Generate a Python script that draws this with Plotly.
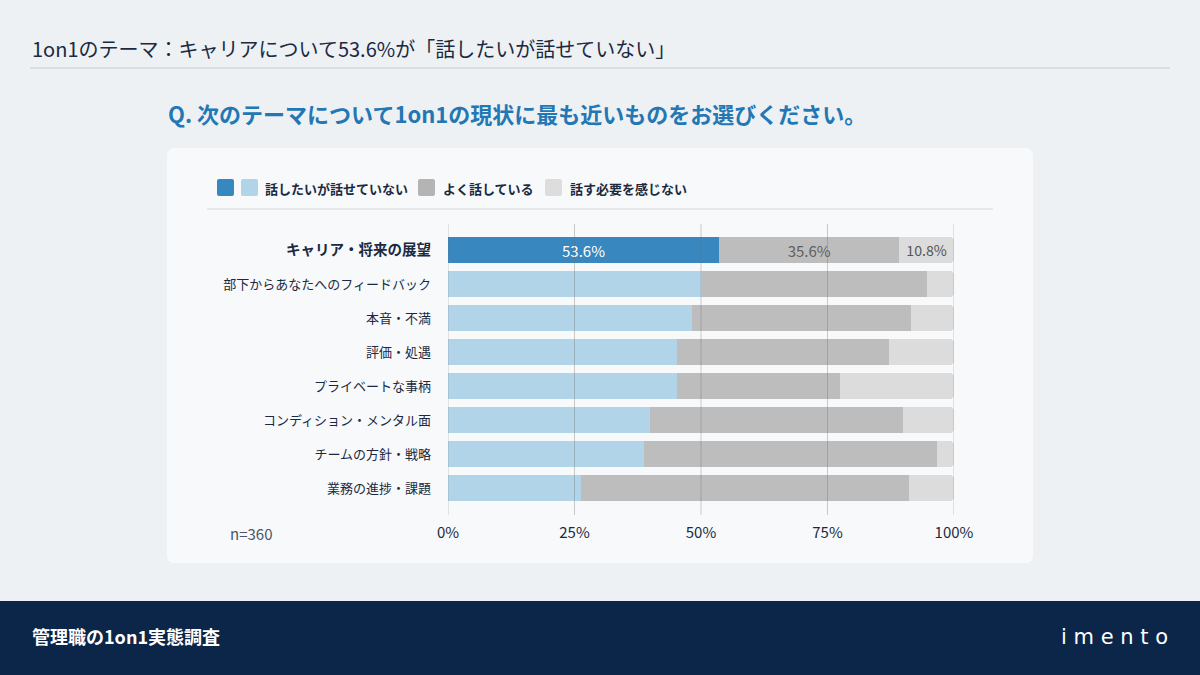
import plotly.graph_objects as go

# Data (share of respondents, %)
themes = [
    "キャリア・将来の展望",
    "部下からあなたへのフィードバック",
    "本音・不満",
    "評価・処遇",
    "プライベートな事柄",
    "コンディション・メンタル面",
    "チームの方針・戦略",
    "業務の進捗・課題",
]
want_but_cant = [53.6, 50.1, 48.2, 45.3, 45.3, 39.9, 38.7, 26.3]
talk_often = [35.6, 44.6, 43.3, 41.8, 32.1, 50.0, 58.0, 64.8]
no_need = [10.8, 5.3, 8.5, 12.9, 22.6, 10.1, 3.3, 8.9]
series_names = ["話したいが話せていない", "よく話している", "話す必要を感じない"]
tick_vals = [0, 25, 50, 75, 100]
tick_text = ["0%", "25%", "50%", "75%", "100%"]

W, H = 1200, 675
FONT = "Noto Sans CJK JP"
NAVY = "#1b2a41"


def px(x):
    return x / W


def py(y):
    return 1 - y / H


fig = go.Figure()

# highlight only the first row (career)
blue_colors = ["#3887be"] + ["#b2d4e8"] * (len(themes) - 1)
label_row = lambda vals: [f"{vals[0]:.1f}%"] + [""] * (len(vals) - 1)

fig.add_trace(go.Bar(
    y=themes, x=want_but_cant, orientation="h", name=series_names[0],
    marker=dict(color=blue_colors, line=dict(width=0)),
    text=label_row(want_but_cant), textposition="inside", insidetextanchor="middle",
    textfont=dict(color="white", size=15, family=FONT), constraintext="none",
    hoverinfo="skip",
))
fig.add_trace(go.Bar(
    y=themes, x=talk_often, orientation="h", name=series_names[1],
    marker=dict(color="#bdbdbd", line=dict(width=0)),
    text=label_row(talk_often), textposition="inside", insidetextanchor="middle",
    textfont=dict(color="#606060", size=15, family=FONT), constraintext="none",
    hoverinfo="skip",
))
fig.add_trace(go.Bar(
    y=themes, x=no_need, orientation="h", name=series_names[2],
    marker=dict(color="#dcdcdc", line=dict(width=0)),
    text=label_row(no_need), textposition="inside", insidetextanchor="middle",
    textfont=dict(color="#555555", size=15, family=FONT), constraintext="none",
    hoverinfo="skip",
))

ticks_y = [f"<span style='font-size:14.5px'><b>{themes[0]}</b></span>"] + themes[1:]

# rounded rectangle path in paper coords
def rounded_rect(x0, y0, x1, y1, r):
    rx, ry = r / W, r / H
    a0, b0, a1, b1 = px(x0), py(y0), px(x1), py(y1)
    return (f"M {a0+rx},{b0} L {a1-rx},{b0} Q {a1},{b0} {a1},{b0-ry} "
            f"L {a1},{b1+ry} Q {a1},{b1} {a1-rx},{b1} L {a0+rx},{b1} "
            f"Q {a0},{b1} {a0},{b1+ry} L {a0},{b0-ry} Q {a0},{b0} {a0+rx},{b0} Z")


shapes = [
    dict(type="path", xref="paper", yref="paper", path=rounded_rect(167, 148, 1033, 563, 8),
         fillcolor="#f7f9fb", line=dict(width=0), layer="below"),
    dict(type="line", xref="paper", yref="paper", x0=px(30), x1=px(1170), y0=py(68), y1=py(68),
         line=dict(color="#c6ccd3", width=1)),
    dict(type="line", xref="paper", yref="paper", x0=px(207), x1=px(993), y0=py(209), y1=py(209),
         line=dict(color="#d3d7dc", width=1)),
    dict(type="rect", xref="paper", yref="paper", x0=0, x1=1, y0=0, y1=py(601),
         fillcolor="#0b2649", line=dict(width=0)),
]
# gridlines drawn over the bars
for v in tick_vals:
    shapes.append(dict(type="line", xref="x", yref="paper", x0=v, x1=v, y0=py(515), y1=py(224),
                       line=dict(color="rgba(110,110,110,0.35)", width=1), layer="above"))

# legend squares
legend_boxes = [(217, "#3887be"), (241, "#b2d4e8"), (418, "#b4b4b4"), (545, "#dddddd")]
for x0, c in legend_boxes:
    shapes.append(dict(type="path", xref="paper", yref="paper",
                       path=rounded_rect(x0, 179, x0 + 17, 196, 2),
                       fillcolor=c, line=dict(width=0)))

annotations = [
    dict(text="1on1のテーマ：キャリアについて53.6%が「話したいが話せていない」",
         x=px(30), y=py(48), xanchor="left", yanchor="middle",
         font=dict(size=20, color=NAVY, family=FONT)),
    dict(text="<b>Q. 次のテーマについて1on1の現状に最も近いものをお選びください。</b>",
         x=px(166), y=py(113), xanchor="left", yanchor="middle",
         font=dict(size=22, color="#2377b4", family=FONT)),
    dict(text="n=360", x=px(228), y=py(533), xanchor="left", yanchor="middle",
         font=dict(size=15, color="#4a5568", family=FONT)),
    dict(text="<b>管理職の1on1実態調査</b>", x=px(30), y=py(636), xanchor="left", yanchor="middle",
         font=dict(size=18, color="white", family=FONT)),
    dict(text="i m e n t o", x=px(1170), y=py(637), xanchor="right", yanchor="middle",
         font=dict(size=21, color="white", family="DejaVu Sans")),
]
for x0, name in zip([263, 441, 568], series_names):
    annotations.append(dict(text=f"<b>{name}</b>", x=px(x0), y=py(188), xanchor="left",
                            yanchor="middle", font=dict(size=13, color=NAVY, family=FONT)))
for a in annotations:
    a.update(xref="paper", yref="paper", showarrow=False)

fig.update_layout(
    width=W, height=H,
    margin=dict(l=0, r=0, t=0, b=0, pad=0, autoexpand=False),
    paper_bgcolor="#edf1f4",
    plot_bgcolor="rgba(0,0,0,0)",
    barmode="stack",
    bargap=0.24,
    barcornerradius=4,
    showlegend=False,
    font=dict(family=FONT, color=NAVY),
    shapes=shapes,
    annotations=annotations,
)
fig.update_xaxes(
    domain=[px(448), px(954)], range=[0, 100], tickvals=tick_vals, ticktext=tick_text,
    showgrid=False, zeroline=False, showline=False, ticks="", automargin=False,
    tickfont=dict(size=15, color=NAVY, family=FONT), ticklabelstandoff=7,
)
fig.update_yaxes(
    domain=[py(515.2), py(222.8)], type="category", categoryarray=themes,
    range=[len(themes) - 0.2, -0.8], tickvals=themes, ticktext=ticks_y,
    showgrid=False, zeroline=False, showline=False, ticks="", automargin=False,
    tickfont=dict(size=13, color=NAVY, family=FONT), ticklabelstandoff=16,
)

fig.write_html(
    "out.html",
    config={"displayModeBar": False},
    post_script="document.body.style.margin='0';document.body.style.overflow='hidden';",
)
